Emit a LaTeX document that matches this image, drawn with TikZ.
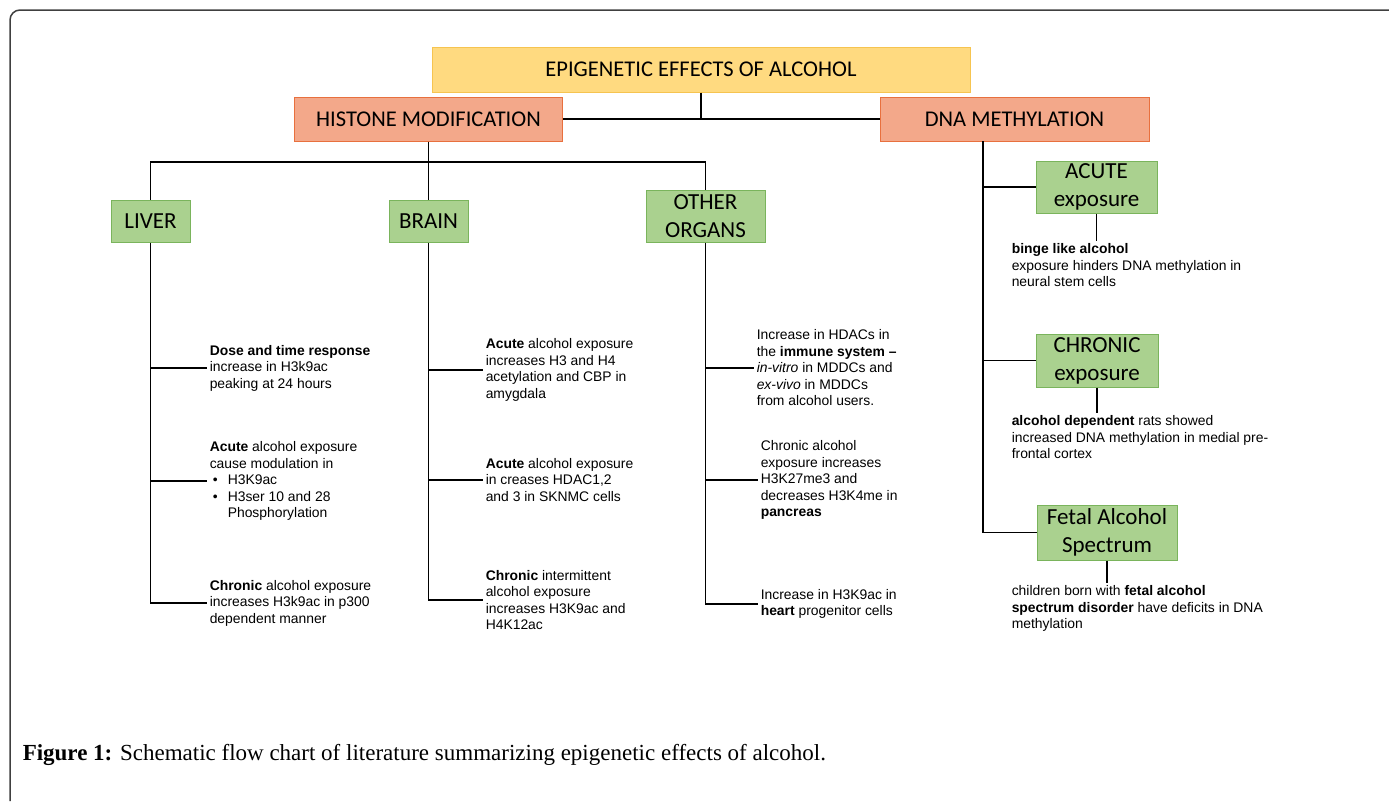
\documentclass[tikz,border=0pt]{standalone}
\usepackage{fontspec}
\setmainfont{Liberation Serif}
\newfontfamily\boxfont{Carlito}
\newfontfamily\notefont{Liberation Sans}
\usetikzlibrary{positioning}

\definecolor{topfill}{RGB}{255,218,128}
\definecolor{topedge}{RGB}{246,196,80}
\definecolor{midfill}{RGB}{243,168,138}
\definecolor{midedge}{RGB}{232,112,62}
\definecolor{leaffill}{RGB}{170,209,143}
\definecolor{leafedge}{RGB}{122,180,92}

\tikzset{every picture/.style={line width=1.5pt}}
\tikzset{
  headbox/.style={draw=topedge, fill=topfill, line width=1pt, inner sep=0pt,
    font=\boxfont\fontsize{22.5}{26}\selectfont},
  groupbox/.style={draw=midedge, fill=midfill, line width=1pt, inner sep=0pt,
    font=\boxfont\fontsize{22.5}{26}\selectfont},
  leafbox/.style={draw=leafedge, fill=leaffill, line width=1pt, inner sep=0pt,
    align=center, font=\boxfont\fontsize{23}{28}\selectfont},
  note/.style={anchor=west, align=left, inner sep=2pt,
    font=\notefont\fontsize{13.9}{16.5}\selectfont},
  dnote/.style={note, anchor=north west},
}
\newcommand{\bul}[1]{\hspace*{3pt}\makebox[15pt][l]{\textbullet}#1}

\begin{document}
\begin{tikzpicture}[x=1pt,y=1pt,yscale=-1,xscale=1]
\useasboundingbox (0,0) rectangle (1389,801);

% frame
\draw [color=black!75, rounded corners=10] (10,801) |- (1389,10);

% Boxes
\node [headbox, minimum width=538, minimum height=45] (top) at (701,69.5) {EPIGENETIC EFFECTS OF ALCOHOL};
\node [groupbox, minimum width=268, minimum height=44] (hist) at (428.5,119) {HISTONE MODIFICATION};
\node [groupbox, minimum width=269, minimum height=44] (dna) at (1014.5,119) {DNA METHYLATION};
\node [leafbox, minimum width=79, minimum height=42] (liver) at (150.5,221) {LIVER};
\node [leafbox, minimum width=79, minimum height=42] (brain) at (428.5,221) {BRAIN};
\node [leafbox, minimum width=119, minimum height=52] (other) at (705.5,216) {OTHER\\ORGANS};
\node [leafbox, minimum width=121, minimum height=52] (acute) at (1096.5,187) {ACUTE\\exposure};
\node [leafbox, minimum width=122, minimum height=53] (chronic) at (1097,360.5) {CHRONIC\\exposure};
\node [leafbox, minimum width=140, minimum height=55] (fetal) at (1107,532.5) {Fetal Alcohol\\Spectrum};

% Text Node
\node [note] (l1) at (207,368) {\textbf{Dose and time response}\\increase in H3k9ac\\peaking at 24 hours};
\node [note] (l2) at (207,481) {\textbf{Acute} alcohol exposure\\cause modulation in\\\bul{H3K9ac}\\\bul{H3ser 10 and 28}\\\hspace*{18pt}Phosphorylation};
\node [note] (l3) at (207,603) {\textbf{Chronic} alcohol exposure\\increases H3k9ac in p300\\dependent manner};
\node [note] (b1) at (483,370) {\textbf{Acute} alcohol exposure\\increases H3 and H4\\acetylation and CBP in\\amygdala};
\node [note] (b2) at (483,480) {\textbf{Acute} alcohol exposure\\in creases HDAC1,2\\and 3 in SKNMC cells};
\node [note] (b3) at (483,600) {\textbf{Chronic} intermittent\\alcohol exposure\\increases H3K9ac and\\H4K12ac};
\node [note] (o1) at (754,368) {Increase in HDACs in\\the \textbf{immune system –}\\\textit{in-vitro} in MDDCs and\\\textit{ex-vivo} in MDDCs\\from alcohol users.};
\node [note] (o2) at (758,480) {Chronic alcohol\\exposure increases\\H3K27me3 and\\decreases H3K4me in\\\textbf{pancreas}};
\node [note] (o3) at (758,604) {Increase in H3K9ac in\\\textbf{heart} progenitor cells};
\node [dnote] (d1) at (1009,241) {\textbf{binge like alcohol}\\exposure hinders DNA methylation in\\neural stem cells};
\node [dnote] (d2) at (1009,413) {\textbf{alcohol dependent} rats showed\\increased DNA methylation in medial pre-\\frontal cortex};
\node [dnote] (d3) at (1009,583) {children born with \textbf{fetal alcohol}\\\textbf{spectrum disorder} have deficits in DNA\\methylation};

% Connectors
\draw (top.south) -- (top.south |- hist.east);
\draw (hist.east) -- (dna.west);
\draw (hist.south) -- (brain.north);
\coordinate (hbus) at (hist.south |- 0,162);
\draw (liver.north) |- (hbus) -| (other.north);
\draw (liver.south) |- (l3.west);
\draw (liver.south |- l1.west) -- (l1.west);
\draw (liver.south |- l2.west) -- (l2.west);
\draw (brain.south) |- (b3.west);
\draw (brain.south |- b1.west) -- (b1.west);
\draw (brain.south |- b2.west) -- (b2.west);
\draw (other.south) |- (o3.west);
\draw (other.south |- o1.west) -- (o1.west);
\draw (other.south |- o2.west) -- (o2.west);
\coordinate (dspine) at (983,141);
\draw (dspine) |- (fetal.west);
\draw (dspine |- acute.west) -- (acute.west);
\draw (dspine |- chronic.west) -- (chronic.west);
\draw (acute.south) -- (acute.south |- d1.north);
\draw (chronic.south) -- (chronic.south |- d2.north);
\draw (fetal.south) -- (fetal.south |- d3.north);

% caption
\node [anchor=west, inner sep=0pt, font=\fontsize{23}{27}\selectfont] (cap) at (22,755) {\textbf{Figure 1:} Schematic flow chart of literature summarizing epigenetic effects of alcohol.};

\end{tikzpicture}
\end{document}
